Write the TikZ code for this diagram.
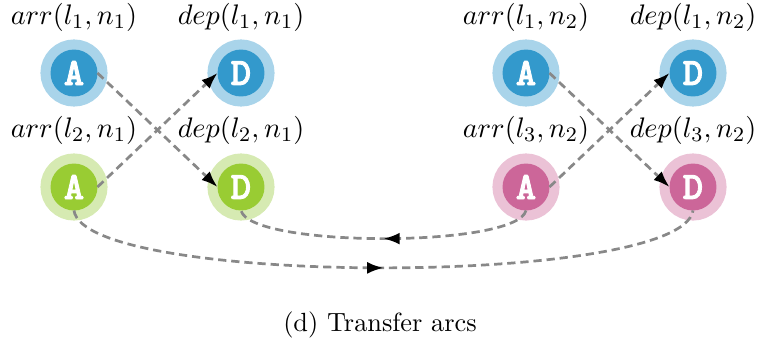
\documentclass[tikz,border=0pt]{standalone}
\usepackage{fontspec}
\newfontfamily\evfont{lmmonolt10-bold.otf}[FakeBold=2.2]
\usetikzlibrary{arrows.meta,decorations.markings}
\definecolor{bIn}{HTML}{3399CC}
\definecolor{bOut}{HTML}{A9D4EA}
\definecolor{gIn}{HTML}{99CC33}
\definecolor{gOut}{HTML}{D6EAB2}
\definecolor{pIn}{HTML}{CC6699}
\definecolor{pOut}{HTML}{EBC2D6}
\definecolor{arcgray}{HTML}{888888}
\begin{document}
\begin{tikzpicture}[x=0.3876pt,y=-0.3876pt,
  ev/.style={circle,minimum size=18.2pt,inner sep=0pt,outer sep=0pt,
    text=white,font=\fontsize{15}{15}\selectfont\evfont},
  evblue/.style={ev,fill=bIn,preaction={draw=bOut,line width=7.8pt}},
  evgreen/.style={ev,fill=gIn,preaction={draw=gOut,line width=7.8pt}},
  evpink/.style={ev,fill=pIn,preaction={draw=pOut,line width=7.8pt}},
  lab/.style={anchor=base,inner sep=0pt,font=\fontsize{11}{13}\selectfont},
  captext/.style={anchor=base,inner sep=0pt,font=\fontsize{10.2}{12}\selectfont},
  arc/.style={draw=arcgray,line width=1.05pt,dash pattern=on 3.2pt off 1.9pt},
  tip/.style={-{Latex[length=6.3pt,width=4.6pt,black]}},
  midtip/.style={postaction={decorate},decoration={markings,
    mark=at position 0.5 with {\arrow{Latex[length=6.3pt,width=4.6pt,black]}}}}
]
\useasboundingbox (0,0) rectangle (759,349);
% nodes
\node[evblue]  (a11) at (74,73)  {A};
\node[evblue]  (d11) at (241,73) {D};
\node[evgreen] (a21) at (74,187) {A};
\node[evgreen] (d21) at (241,187) {D};
\node[evblue]  (a12) at (526,73)  {A};
\node[evblue]  (d12) at (693,73) {D};
\node[evpink]  (a32) at (526,187) {A};
\node[evpink]  (d32) at (693,187) {D};
% labels
\node[lab] (la11) at (74,24)  {$arr(l_1,n_1)$};
\node[lab] (ld11) at (241,24) {$dep(l_1,n_1)$};
\node[lab] (la21) at (74,137) {$arr(l_2,n_1)$};
\node[lab] (ld21) at (241,137) {$dep(l_2,n_1)$};
\node[lab] (la12) at (526,24)  {$arr(l_1,n_2)$};
\node[lab] (ld12) at (693,24) {$dep(l_1,n_2)$};
\node[lab] (la32) at (526,137) {$arr(l_3,n_2)$};
\node[lab] (ld32) at (693,137) {$dep(l_3,n_2)$};
% arcs
\draw[arc,tip] (a11.east) -- (d21.west);
\draw[arc,tip] (a21.east) -- (d11.west);
\draw[arc,tip] (a12.east) -- (d32.west);
\draw[arc,tip] (a32.east) -- (d12.west);
\draw[arc,midtip] (a32.south) .. controls (517,248) and (250,248) .. (d21.south);
\draw[arc,midtip] (a21.south) .. controls (84,287) and (682,287) .. (d32.south);
% caption
\node[captext] (capt) at (380,331) {(d) Transfer arcs};
\end{tikzpicture}
\end{document}
